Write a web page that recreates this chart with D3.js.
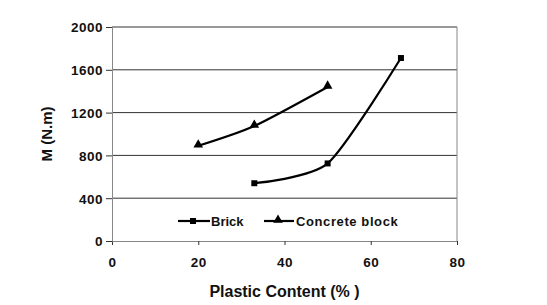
<!DOCTYPE html>
<html>
<head>
<meta charset="utf-8">
<script src="https://cdn.jsdelivr.net/npm/d3@7"></script>
<style>
body { margin: 0; background: #fff; }
text { font-family: "Liberation Sans", Arial, sans-serif; font-weight: bold; fill: #111; }
</style>
</head>
<body>
<svg></svg>
<script>
var width = 547, height = 305;
var margin = {top: 27, right: 90, bottom: 64, left: 112};

var brickX = [33, 50, 67];
var brickY = [540, 725, 1710];
var concreteX = [20, 33, 50];
var concreteY = [890, 1075, 1440];
var xTicks = [0, 20, 40, 60, 80];
var yTicks = [0, 400, 800, 1200, 1600, 2000];

var svg = d3.select("svg").attr("width", width).attr("height", height);

var x = d3.scaleLinear().domain([0, 80]).range([margin.left, width - margin.right]);
var y = d3.scaleLinear().domain([0, 2000]).range([height - margin.bottom, margin.top]);

// grid lines
svg.append("g")
    .selectAll("line")
    .data(yTicks.slice(1))
    .join("line")
    .attr("x1", x(0)).attr("x2", x(80))
    .attr("y1", d => y(d)).attr("y2", d => y(d))
    .style("stroke", "#333")
    .style("stroke-width", 1);

// right border
svg.append("line")
    .attr("x1", x(80)).attr("x2", x(80))
    .attr("y1", y(0)).attr("y2", y(2000))
    .style("stroke", "#888");

var gx = svg.append("g")
    .attr("transform", "translate(0," + y(0) + ")")
    .call(d3.axisBottom(x).tickValues(xTicks).tickFormat(d3.format("d")).tickSize(4).tickPadding(12));
var gy = svg.append("g")
    .attr("transform", "translate(" + x(0) + ",0)")
    .call(d3.axisLeft(y).tickValues(yTicks).tickFormat(d3.format("d")).tickSize(6).tickPadding(3));

[gx, gy].forEach(function (g) {
    g.select(".domain").style("stroke", "#888");
    g.selectAll(".tick line").style("stroke", "#333");
    g.selectAll(".tick text")
        .style("font-size", "13.5px")
        .style("letter-spacing", "0.5px")
        .style("font-family", "Liberation Sans, Arial")
        .style("font-weight", "bold")
        .attr("fill", "#111");
});
gy.selectAll(".tick text").attr("dy", "0.36em");

// smoothed lines, a bit tighter than catmull-rom
var line = d3.line()
    .x(d => x(d[0])).y(d => y(d[1]))
    .curve(d3.curveCardinal.tension(0.3));

var brick = brickX.map((v, i) => [v, brickY[i]]);
var concrete = concreteX.map((v, i) => [v, concreteY[i]]);

svg.append("path").datum(brick).attr("d", line)
    .style("fill", "none").style("stroke", "#000").style("stroke-width", 2.2);
svg.append("path").datum(concrete).attr("d", line)
    .style("fill", "none").style("stroke", "#000").style("stroke-width", 2.2);

var sq = d3.symbol().type(d3.symbolSquare).size(36);
var tri = d3.symbol().type(d3.symbolTriangle).size(40);

svg.append("g").selectAll("path").data(brick).join("path")
    .attr("d", sq)
    .attr("transform", d => "translate(" + x(d[0]) + "," + y(d[1]) + ")")
    .style("fill", "#000");
svg.append("g").selectAll("path").data(concrete).join("path")
    .attr("d", tri)
    .attr("transform", d => "translate(" + x(d[0]) + "," + (y(d[1]) - 1) + ")")
    .style("fill", "#000");

// legend
var leg = svg.append("g").attr("transform", "translate(0,221)");
leg.append("line").attr("x1", 178).attr("x2", 210).attr("y1", 0).attr("y2", 0)
    .style("stroke", "#000").style("stroke-width", 2.2);
leg.append("path").attr("d", sq).attr("transform", "translate(193,0)").style("fill", "#000");
leg.append("text").attr("x", 211).attr("y", 5).style("font-size", "13px").text("Brick");
leg.append("line").attr("x1", 264).attr("x2", 294).attr("y1", 0).attr("y2", 0)
    .style("stroke", "#000").style("stroke-width", 2.2);
leg.append("path").attr("d", tri).attr("transform", "translate(278,-1)").style("fill", "#000");
leg.append("text").attr("x", 296).attr("y", 5).style("font-size", "13px")
    .style("letter-spacing", "0.6px").text("Concrete block");

// axis titles
svg.append("text")
    .attr("x", (x(0) + x(80)) / 2).attr("y", 297)
    .attr("text-anchor", "middle")
    .style("font-size", "16px")
    .text("Plastic Content (% )");
svg.append("text")
    .attr("transform", "translate(52," + ((y(0) + y(2000)) / 2) + ") rotate(-90)")
    .attr("text-anchor", "middle")
    .style("font-size", "15px")
    .text("M (N.m)");
</script>
</body>
</html>
